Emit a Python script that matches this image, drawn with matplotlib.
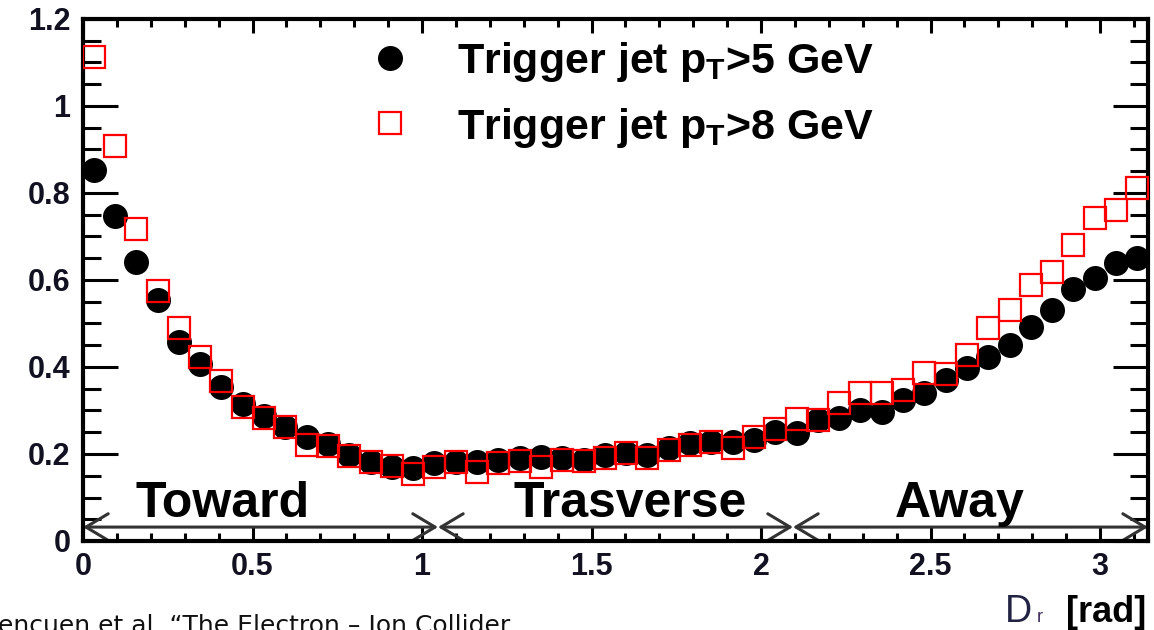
import matplotlib
matplotlib.use('Agg')

import numpy as np
import matplotlib.pyplot as plt
from matplotlib.ticker import MultipleLocator, FuncFormatter

plt.rcParams['font.family'] = ['Liberation Sans', 'DejaVu Sans']
plt.rcParams['mathtext.fontset'] = 'custom'
plt.rcParams['mathtext.rm'] = 'Liberation Sans:bold'
plt.rcParams['mathtext.bf'] = 'Liberation Sans:bold'

# 50 bins in delta-phi from 0 to pi
nbins = 50
dphi = (np.arange(nbins) + 0.5) * np.pi / nbins

pt5 = [0.853, 0.746, 0.642, 0.554, 0.457, 0.406, 0.354, 0.314, 0.287, 0.261,
       0.239, 0.222, 0.198, 0.182, 0.170, 0.168, 0.179, 0.182, 0.182, 0.186,
       0.190, 0.193, 0.190, 0.186, 0.198, 0.202, 0.198, 0.214, 0.225, 0.228,
       0.228, 0.232, 0.251, 0.248, 0.278, 0.283, 0.301, 0.297, 0.324, 0.340,
       0.370, 0.398, 0.423, 0.450, 0.492, 0.531, 0.580, 0.605, 0.639, 0.651]

pt8 = [1.113, 0.909, 0.717, 0.574, 0.489, 0.423, 0.368, 0.308, 0.283, 0.262,
       0.221, 0.219, 0.196, 0.182, 0.172, 0.154, 0.170, 0.182, 0.159, 0.179,
       0.184, 0.171, 0.186, 0.185, 0.190, 0.203, 0.191, 0.209, 0.220, 0.227,
       0.214, 0.239, 0.257, 0.280, 0.278, 0.317, 0.340, 0.340, 0.347, 0.386,
       0.384, 0.428, 0.490, 0.531, 0.589, 0.618, 0.680, 0.742, 0.761, 0.811]

labels = [r'Trigger jet p$_{\mathrm{T}}$>5 GeV', r'Trigger jet p$_{\mathrm{T}}$>8 GeV']
regions = ['Toward', 'Trasverse', 'Away']
region_edges = [0, np.pi / 3, 2 * np.pi / 3, np.pi]
region_text_x = [0.154, 1.269, 2.396]

fig = plt.figure(figsize=(11.54, 6.3), dpi=100)
ax = fig.add_axes([83 / 1154, 1 - 541 / 630, (1148 - 83) / 1154, (541 - 19) / 630])

h1, = ax.plot(dphi, pt5, 'o', color='black', markersize=18, markeredgewidth=0,
              label=labels[0], zorder=3)
h2, = ax.plot(dphi, pt8, 's', markerfacecolor='none', markeredgecolor='#ff0000',
              markersize=16, markeredgewidth=1.6, label=labels[1], zorder=4)

# toward / transverse / away arrows along the bottom
for i in range(3):
    ax.annotate('', xy=(region_edges[i + 1], 0.032), xytext=(region_edges[i], 0.032),
                arrowprops=dict(arrowstyle='<->,head_length=1.0,head_width=0.6',
                                color='#333333', lw=2.2, shrinkA=0, shrinkB=0,
                                mutation_scale=16), zorder=2)
    ax.text(region_text_x[i], 0.055, regions[i], fontsize=36, fontweight='bold',
            ha='left', va='baseline', zorder=5)

ax.set_xlim(0, np.pi)
ax.set_ylim(0, 1.2)
ax.xaxis.set_major_locator(MultipleLocator(0.5))
ax.xaxis.set_minor_locator(MultipleLocator(0.1))
ax.yaxis.set_major_locator(MultipleLocator(0.2))
ax.yaxis.set_minor_locator(MultipleLocator(0.05))
fmt = FuncFormatter(lambda v, pos: '%g' % round(v, 2))
ax.xaxis.set_major_formatter(fmt)
ax.yaxis.set_major_formatter(fmt)

ax.tick_params(axis='both', which='both', direction='in', top=True, right=True,
               width=2.2, labelsize=22, labelcolor='#111122')
ax.tick_params(axis='y', which='major', length=25, pad=9)
ax.tick_params(axis='y', which='minor', length=13)
ax.tick_params(axis='x', which='major', length=10, pad=8)
ax.tick_params(axis='x', which='minor', length=5.5)
for lab in ax.get_xticklabels() + ax.get_yticklabels():
    lab.set_fontweight('bold')
for sp in ax.spines.values():
    sp.set_linewidth(3)

leg = ax.legend(handles=[h1, h2], loc='upper left',
                bbox_to_anchor=((367 - 83) / 1065, (541 - 40) / 522),
                frameon=False, handlelength=1.05, handletextpad=1.05,
                borderaxespad=0, borderpad=0, labelspacing=0.5,
                prop={'size': 31, 'weight': 'bold'})
for t in leg.get_texts():
    t.set_fontweight('bold')

# axis title, pieced together
fig.text(1005 / 1154, 8 / 630, 'D', fontsize=27, color='#222244', va='baseline')
fig.text(1037 / 1154, 8 / 630, 'r', fontsize=13, color='#3a2a5a', va='baseline')
fig.text(1066 / 1154, 8 / 630, '[rad]', fontsize=26, fontweight='bold', va='baseline')

fig.text(-0.002, -0.004, 'encuen et al. \u201cThe Electron \u2013 Ion Collider',
         fontsize=18, family='DejaVu Sans', color='#111111', va='baseline')

fig.savefig('out.png', dpi=100)
